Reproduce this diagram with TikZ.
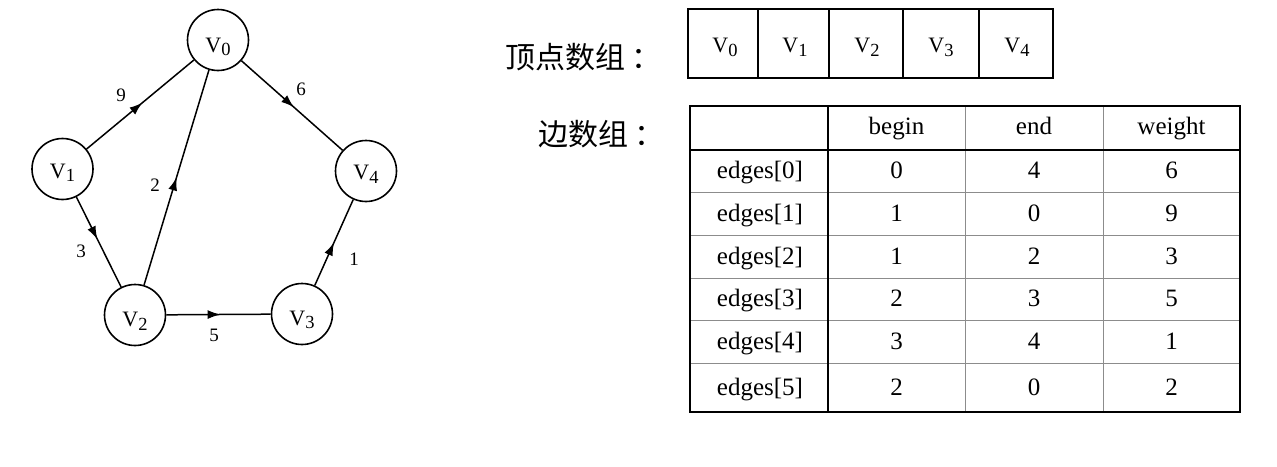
\documentclass[tikz,border=0pt]{standalone}
\usepackage{fontspec}
\setmainfont{Liberation Serif}
\newfontfamily\cjk{Noto Sans CJK SC}
\usetikzlibrary{decorations.markings,arrows.meta}
\newcommand\vlab[1]{V\raisebox{-3.5pt}{\fontsize{18.5}{18.5}\selectfont #1}}
\newcommand\vtext[2]{\raisebox{-#1pt}[0pt][0pt]{\vlab{#2}}}
\begin{document}
\begin{tikzpicture}[x=1pt,y=-1pt,
  vtx/.style={circle,draw,line width=1.6pt,minimum size=61pt,inner sep=0pt,font=\fontsize{22}{22}\selectfont},
  diredge/.style={line width=1.5pt,postaction={decorate},
    decoration={markings,mark=at position #1 with {\arrow{Latex[length=13pt,width=9pt]}}}},
  diredge/.default=0.5,
  wlab/.style={font=\fontsize{19}{19}\selectfont,inner sep=0pt},
  cell/.style={font=\fontsize{25}{25}\selectfont,inner sep=0pt,anchor=base},
  arr/.style={font=\fontsize{22}{22}\selectfont,inner sep=0pt,anchor=base},
  cjklab/.style={font=\cjk\fontsize{30}{30}\selectfont,inner sep=0pt,anchor=base west},
  boldline/.style={line width=2.6pt},
  thinline/.style={line width=0.9pt,black!45}
]
\useasboundingbox (0,0) rectangle (1277,466);
% graph
\node[vtx] (v0) at (218,40) {\vtext{12}{0}};
\node[vtx] (v1) at (62.5,169) {\vtext{9}{1}};
\node[vtx] (v2) at (135,315) {\vtext{11.5}{2}};
\node[vtx] (v3) at (302,314) {\vtext{11}{3}};
\node[vtx] (v4) at (366,171) {\vtext{8.5}{4}};
\draw[diredge=0.52] (v1) -- (v0);
\draw[diredge=0.52] (v0) -- (v4);
\draw[diredge=0.5] (v2) -- (v0);
\draw[diredge=0.47] (v1) -- (v2);
\draw[diredge=0.5] (v3) -- (v4);
\draw[diredge=0.52] (v2) -- (v3);
\node[wlab] (w9) at (121,95) {9};
\node[wlab] (w6) at (301,89) {6};
\node[wlab] (w2) at (155,185) {2};
\node[wlab] (w3) at (81,251) {3};
\node[wlab] (w1) at (354,259) {1};
\node[wlab] (w5) at (214,335) {5};
% labels
\node[cjklab] (lv) at (505,68) {顶点数组\kern6pt：};
\node[cjklab] (le) at (538,145) {边数组\kern6pt：};
% vertex array
\draw[line width=2pt] (688,9) rectangle (1053,78);
\foreach \x in {758,829,903,979} \draw[line width=1.6pt] (\x,9) -- (\x,78);
\foreach \c/\i in {725/0,795/1,867/2,941/3,1017/4}
  \node[arr] (a\i) at (\c,52.5) {\vlab\i};
% edge table
\foreach \y in {192,235,278,320,363} \draw[thinline] (690,\y) -- (1240,\y);
\foreach \x in {965,1103} \draw[thinline] (\x,106) -- (\x,412);
\draw[boldline] (690,150) -- (1240,150);
\draw[boldline] (828,106) -- (828,412);
\draw[boldline] (690,106) rectangle (1240,412);
\node[cell] (hb) at (896.5,134) {begin};
\node[cell] (he) at (1034,134) {end};
\node[cell] (hw) at (1171.5,134) {weight};
\foreach \r/\y/\b/\e/\w in {0/178.5/0/4/6,1/221/1/0/9,2/264/1/2/3,3/306.5/2/3/5,4/349/3/4/1,5/395/2/0/2}{
  \node[cell] (n\r) at (760,\y) {edges[\r]};
  \node[cell] (b\r) at (896.5,\y) {\b};
  \node[cell] (e\r) at (1034,\y) {\e};
  \node[cell] (w\r) at (1171.5,\y) {\w};
}
\end{tikzpicture}
\end{document}
